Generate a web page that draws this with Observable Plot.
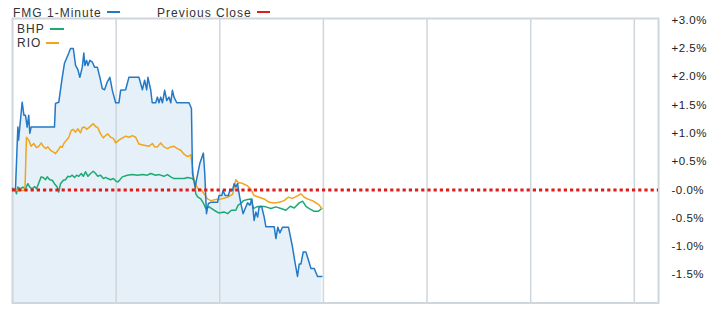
<!DOCTYPE html>
<html><head><meta charset="utf-8">
<script src="https://cdn.jsdelivr.net/npm/d3@7"></script>
<script src="https://cdn.jsdelivr.net/npm/@observablehq/plot@0.6"></script>
<style>
body{margin:0;background:#fff;font-family:"Liberation Sans",Arial,sans-serif;}
#wrap{position:relative;width:712px;height:310px;}
.lg{position:absolute;font-size:12px;letter-spacing:1px;color:#333;line-height:12px;white-space:nowrap;}
.sw{display:inline-block;height:2px;vertical-align:middle;margin-left:5px;position:relative;top:-1px;}
</style></head><body>
<div id="wrap"></div>
<script>
// minutes since the open (10:00) and % change vs previous close
const fmgTime = [0,1.7,3.1,3.5,5.6,6.6,7.5,8.5,9.4,10.0,10.8,24.3,24.9,26.8,28.8,30.1,32.6,33.6,35.2,36.5,37.9,39.0,40.4,41.3,41.9,42.9,43.7,44.8,46.2,47.5,49.1,50.6,52.0,53.3,54.9,56.4,57.8,59.7,61.6,62.6,65.5,67.4,73.2,75.2,76.5,77.7,78.4,80.0,80.9,82.9,83.9,84.8,85.8,86.8,88.1,89.3,90.6,91.6,92.6,93.5,95.1,102.2,103.6,104.2,105.7,106.1,108.4,110.5,111.3,112.3,113.4,114.8,118.7,119.6,121.2,121.9,123.1,125.0,125.8,127.4,128.3,129.3,130.3,131.2,132.2,133.5,134.7,136.1,137.4,138.6,139.9,140.9,141.9,142.8,144.3,145.7,146.7,151.5,152.5,153.6,154.8,156.3,159.8,162.1,163.7,165.0,166.0,167.0,168.3,169.9,171.4,172.8,174.7,176.6,179.1];
const fmgPct = [0,0,1.11,0.88,1.55,1.32,1.32,1.11,1.32,1.00,1.11,1.11,1.53,1.55,1.99,2.24,2.42,2.50,2.50,2.20,2.12,1.99,2.17,2.42,2.20,2.29,2.20,2.29,2.26,2.17,2.17,1.99,1.79,1.77,1.91,1.99,1.76,1.54,1.54,1.76,1.77,1.99,1.99,1.77,1.94,1.77,1.99,1.77,1.54,1.54,1.64,1.54,1.64,1.54,1.76,1.58,1.64,1.54,1.76,1.64,1.54,1.54,1.44,0.29,0.05,0.11,0.46,0.65,0.29,-0.42,-0.24,-0.22,-0.22,-0.10,-0.10,-0.01,-0.10,-0.10,-0.01,-0.01,0.11,0.05,0.11,-0.07,-0.24,-0.42,-0.33,-0.23,-0.27,-0.16,-0.54,-0.39,-0.48,-0.30,-0.30,-0.48,-0.65,-0.65,-0.86,-0.66,-0.76,-0.66,-0.66,-1.01,-1.31,-1.53,-1.31,-1.31,-1.10,-1.10,-1.25,-1.39,-1.39,-1.53,-1.53];

const bhpTime = [0,1.7,2.3,3.1,4.6,6.0,7.5,8.9,10.0,11.4,12.8,13.9,15.2,16.6,17.8,19.1,20.1,21.6,23.0,24.3,25.9,26.8,27.8,29.4,30.7,32.1,33.2,34.6,35.9,37.1,38.4,39.8,41.0,42.3,43.7,45.2,46.8,48.1,49.4,51.0,52.6,53.9,55.2,56.8,58.4,59.7,61.0,62.2,63.6,66.5,69.4,72.3,75.2,78.1,80.0,82.9,84.8,87.7,89.7,91.6,93.5,96.4,99.3,101.3,104.2,105.5,106.1,107.4,109.0,110.6,111.9,113.8,116.7,119.6,122.5,124.5,126.8,129.3,130.6,132.2,133.7,136.1,138.0,139.5,141.4,143.8,146.7,149.6,152.5,155.4,158.3,160.8,163.1,166.0,167.9,169.9,171.8,174.7,177.0,179.0];
const bhpPct = [0.03,-0.01,-0.07,0.05,0.02,0.05,0.02,0.11,0.05,0.02,0.06,0.02,0.12,0.23,0.22,0.18,0.23,0.18,0.17,0.11,0.05,-0.04,0.11,0.17,0.18,0.24,0.23,0.26,0.22,0.26,0.24,0.29,0.24,0.32,0.24,0.29,0.33,0.29,0.24,0.26,0.20,0.22,0.20,0.18,0.20,0.16,0.14,0.18,0.23,0.26,0.27,0.26,0.27,0.26,0.29,0.26,0.27,0.24,0.27,0.23,0.20,0.20,0.20,0.22,0.20,0.14,-0.07,-0.13,-0.16,-0.24,-0.33,-0.30,-0.36,-0.41,-0.39,-0.42,-0.36,-0.36,-0.27,-0.24,-0.19,-0.17,-0.16,-0.33,-0.30,-0.29,-0.30,-0.33,-0.30,-0.33,-0.36,-0.29,-0.32,-0.23,-0.20,-0.29,-0.33,-0.38,-0.38,-0.33];

const rioTime = [0,1.7,7.2,8.1,9.4,10.8,12.3,13.9,15.2,16.6,17.8,19.1,20.5,22.0,23.6,24.9,26.3,27.8,28.8,29.7,31.3,32.6,34.0,35.2,36.5,37.9,39.4,40.4,41.7,42.9,44.2,45.6,46.8,48.1,49.4,51.0,52.6,53.9,55.2,56.8,58.4,59.7,61.6,63.2,65.5,67.4,69.4,71.3,73.2,76.1,79.0,81.0,82.3,83.9,85.8,87.7,89.7,91.6,93.5,95.5,97.4,99.3,101.3,103.2,104.2,105.1,106.1,107.1,109.0,110.9,112.9,114.8,117.7,120.6,124.5,127.4,129.3,130.9,132.8,134.1,136.1,138.0,139.9,142.8,145.7,148.6,151.5,154.4,157.3,159.6,162.1,164.1,167.0,168.9,170.8,173.7,175.7,177.6,179.0];
const rioPct = [-0.01,0,-0.01,0.93,0.88,0.77,0.82,0.75,0.77,0.83,0.77,0.73,0.76,0.70,0.67,0.64,0.70,0.77,0.75,0.82,0.88,0.93,1.05,1.07,1.02,1.08,1.01,1.10,1.11,1.07,1.10,1.14,1.17,1.12,1.10,0.99,0.92,0.96,0.99,0.93,0.91,0.83,0.88,0.91,0.95,0.93,0.96,0.93,0.81,0.79,0.77,0.82,0.76,0.76,0.83,0.76,0.73,0.76,0.77,0.73,0.70,0.63,0.59,0.62,0.40,0.17,0.11,0.03,0.01,-0.07,-0.16,-0.19,-0.17,-0.16,-0.13,-0.08,0.18,0.12,0.12,0.10,0.07,0.01,-0.10,-0.13,-0.16,-0.22,-0.23,-0.22,-0.19,-0.13,-0.15,-0.12,-0.07,-0.13,-0.16,-0.19,-0.23,-0.27,-0.33];

const yTicks = [3, 2.5, 2, 1.5, 1, 0.5, 0, -0.5, -1, -1.5];
const hourGrid = [60, 120, 180, 240, 300, 360];
const previousClose = [0];
const sessionMinutes = [0, 374];
const pctRange = [-2, 3.03];

const zip = (t, v) => t.map((x, i) => ({t: x, v: v[i]}));
const fmg = zip(fmgTime, fmgPct);
const bhp = zip(bhpTime, bhpPct);
const rio = zip(rioTime, rioPct);

const C = {fmg: "#2379c6", bhp: "#1bab72", rio: "#f0a51c", prev: "#dd1c1c", grid: "#cfd6dc", fill: "#e6f0f8"};

const chart = Plot.plot({
  width: 712, height: 310,
  marginLeft: 12, marginRight: 54, marginTop: 18, marginBottom: 7.5,
  style: {fontFamily: '"Liberation Sans", Arial, sans-serif', fontSize: "11.5px", color: "#222", background: "transparent", letterSpacing: "0.5px"},
  x: {domain: sessionMinutes, axis: null},
  y: {domain: pctRange, axis: "right", label: null, ticks: yTicks, tickSize: 0, tickPadding: 13,
      tickFormat: d => (d > 0 ? "+" : "-") + Math.abs(d).toFixed(1) + "%"},
  marks: [
    Plot.areaY(fmg, {x: "t", y1: pctRange[0], y2: "v", fill: C.fill}),
    Plot.ruleX(hourGrid, {stroke: C.grid, strokeWidth: 1.5}),
    Plot.frame({stroke: C.grid, strokeWidth: 2}),
    Plot.line(bhp, {x: "t", y: "v", stroke: C.bhp, strokeWidth: 1.5}),
    Plot.line(rio, {x: "t", y: "v", stroke: C.rio, strokeWidth: 1.5}),
    Plot.line(fmg, {x: "t", y: "v", stroke: C.fmg, strokeWidth: 1.5}),
    Plot.ruleY(previousClose, {stroke: C.prev, strokeWidth: 3, strokeDasharray: "3.2,3"})
  ]
});
const wrap = document.getElementById("wrap");
wrap.appendChild(chart);

const legend = [
  {label: "FMG 1-Minute", color: C.fmg, left: 13, top: 6.5, w: 13},
  {label: "Previous Close", color: C.prev, left: 157, top: 6.5, w: 13},
  {label: "BHP", color: C.bhp, left: 17, top: 23.3, w: 14},
  {label: "RIO", color: C.rio, left: 17, top: 37.3, w: 13}
];
for (const l of legend) {
  const d = document.createElement("div");
  d.className = "lg";
  d.style.left = l.left + "px";
  d.style.top = l.top + "px";
  d.appendChild(document.createTextNode(l.label));
  const s = document.createElement("span");
  s.className = "sw";
  s.style.width = l.w + "px";
  s.style.background = l.color;
  d.appendChild(s);
  wrap.appendChild(d);
}
</script>
</body></html>
